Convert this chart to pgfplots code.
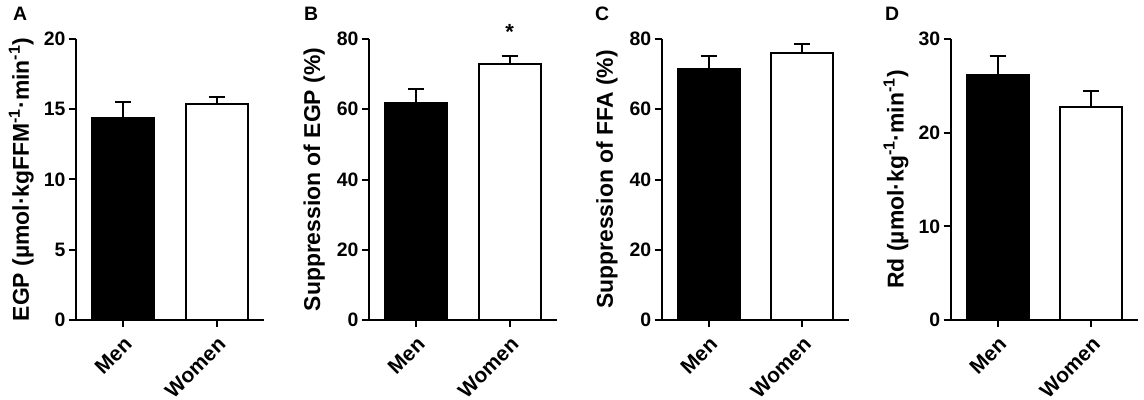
\documentclass[border=0pt]{standalone}
\usepackage{fontspec}
\setmainfont{Liberation Sans}
\usepackage{pgfplots}
\pgfplotsset{compat=1.18}
\pgfplotsset{
 panel/.style={
  scale only axis, width=187.5bp, height=281bp,
  anchor=south west,
  xmin=-0.5, xmax=1.5, ymin=0,
  axis x line*=bottom, axis y line*=left,
  axis line style={line width=2bp,-},
  every tick/.style={black, line width=2bp},
  major tick length=7bp,
  tick align=outside,
  xtick={0,1}, xticklabels={Men,Women},
  /pgf/number format/assume math mode=true,
  ticklabel style={font=\bfseries\fontsize{19.5}{22}\selectfont},
  xticklabel style={rotate=45, anchor=north east, inner sep=2bp, yshift=-4bp, xshift=-4bp, font=\bfseries\fontsize{21}{23}\selectfont},
  ylabel style={font=\bfseries\fontsize{23}{26}\selectfont, at={(axis description cs:-0.292,0.5)}, anchor=center},
  clip=false,
 },
 eb/.style={ybar, bar width=62bp, bar shift=0pt, line width=2bp, draw=black,
   error bars/y dir=plus, error bars/y explicit,
   error bars/error bar style={line width=2bp, black, solid},
   error bars/error mark options={rotate=90, line width=2bp, mark size=8bp, black, solid}},
 menbar/.style={eb, fill=black},
 womenbar/.style={eb, fill=white},
}
\begin{document}
\begin{tikzpicture}
\useasboundingbox (0,0) rectangle (1144bp,400bp);
% Panel A
\begin{axis}[panel, at={(76bp,80bp)}, ymax=20, ytick={0,5,10,15,20},
  ylabel={EGP (µmol·kgFFM\textsuperscript{-1}·min\textsuperscript{-1})}]
\addplot[menbar] coordinates {(0,14.4) +- (0,1.1)};
\addplot[womenbar] coordinates {(1,15.35) +- (0,0.5)};
\end{axis}
% Panel B
\begin{axis}[panel, at={(369bp,80bp)}, ymax=80, ytick={0,20,40,60,80},
  ylabel={Suppression of EGP (\%)}]
\addplot[menbar] coordinates {(0,61.7) +- (0,4.0)};
\addplot[womenbar] coordinates {(1,72.8) +- (0,2.4)};
\node[font=\bfseries\fontsize{22}{24}\selectfont, anchor=base] at (axis cs:1,79.8) {*};
\end{axis}
% Panel C
\begin{axis}[panel, at={(661.7bp,80bp)}, ymax=80, ytick={0,20,40,60,80},
  ylabel={Suppression of FFA (\%)}]
\addplot[menbar] coordinates {(0,71.5) +- (0,3.7)};
\addplot[womenbar] coordinates {(1,75.9) +- (0,2.7)};
\end{axis}
% Panel D
\begin{axis}[panel, at={(950.7bp,80bp)}, ymax=30, ytick={0,10,20,30},
  ylabel={Rd (µmol·kg\textsuperscript{-1}·min\textsuperscript{-1})}]
\addplot[menbar] coordinates {(0,26.15) +- (0,2.05)};
\addplot[womenbar] coordinates {(1,22.7) +- (0,1.75)};
\end{axis}
% panel letters
\node[font=\bfseries\fontsize{19.5}{22}\selectfont, anchor=base west, inner sep=0pt] at (13bp,379bp) {A};
\node[font=\bfseries\fontsize{19.5}{22}\selectfont, anchor=base west, inner sep=0pt] at (304bp,379bp) {B};
\node[font=\bfseries\fontsize{19.5}{22}\selectfont, anchor=base west, inner sep=0pt] at (595bp,379bp) {C};
\node[font=\bfseries\fontsize{19.5}{22}\selectfont, anchor=base west, inner sep=0pt] at (885bp,379bp) {D};
\end{tikzpicture}
\end{document}
